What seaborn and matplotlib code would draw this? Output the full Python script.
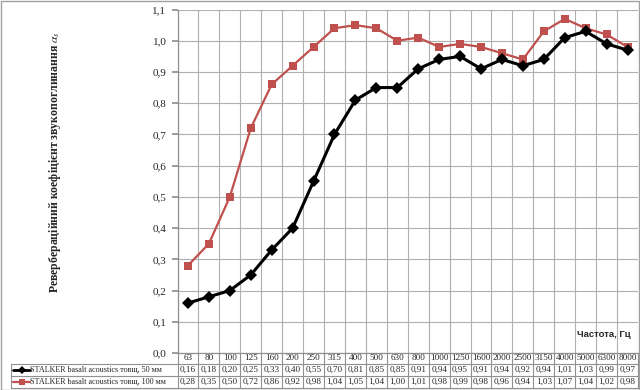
import numpy as np
import pandas as pd
import matplotlib
matplotlib.use("Agg")
import matplotlib.pyplot as plt
import seaborn as sns
from matplotlib.lines import Line2D
from matplotlib.transforms import blended_transform_factory

freqs = ["63", "80", "100", "125", "160", "200", "250", "315", "400", "500", "630",
         "800", "1000", "1250", "1600", "2000", "2500", "3150", "4000", "5000", "6300", "8000"]
s50 = [0.16, 0.18, 0.20, 0.25, 0.33, 0.40, 0.55, 0.70, 0.81, 0.85, 0.85,
       0.91, 0.94, 0.95, 0.91, 0.94, 0.92, 0.94, 1.01, 1.03, 0.99, 0.97]
s100 = [0.28, 0.35, 0.50, 0.72, 0.86, 0.92, 0.98, 1.04, 1.05, 1.04, 1.00,
        1.01, 0.98, 0.99, 0.98, 0.96, 0.94, 1.03, 1.07, 1.04, 1.02, 0.98]
name50 = "STALKER basalt acoustics товщ, 50 мм"
name100 = "STALKER basalt acoustics товщ, 100 мм"
yticks = [0.0, 0.1, 0.2, 0.3, 0.4, 0.5, 0.6, 0.7, 0.8, 0.9, 1.0, 1.1]
ylabel = "Реверберацiйний коефiцiєнт звукопоглинання "
xlabel = "Частота, Гц"

W, H = 640, 390
RED = "#C0504D"
GRID = "#B0B0B0"
TBL = "#909090"

sns.set_theme(style="white")
plt.rcParams['font.family'] = ['Liberation Serif', 'DejaVu Serif']
plt.rcParams['mathtext.fontset'] = 'stix'

fig = plt.figure(figsize=(W / 100, H / 100), dpi=100)
L, R, T, B = 177.5, 638, 9.5, 353
ax = fig.add_axes([L / W, 1 - B / H, (R - L) / W, (B - T) / H])

n = len(freqs)
df = pd.DataFrame({"pos": list(range(n)) * 2,
                   "val": s50 + s100,
                   "series": [name50] * n + [name100] * n})

sns.lineplot(data=df[df.series == name100], x="pos", y="val", color=RED, lw=1.6,
             marker="s", markersize=5.5, markeredgewidth=0, ax=ax, zorder=3)
sns.lineplot(data=df[df.series == name50], x="pos", y="val", color="black", lw=2.2,
             marker="D", markersize=6, markeredgewidth=0, ax=ax, zorder=4)

ax.set_xlim(-0.5, n - 0.5)
ax.set_ylim(0, 1.1)
ax.set_yticks(yticks)
ax.set_yticklabels([f"{v:.1f}".replace(".", ",") for v in yticks], fontsize=8)
ax.set_xticks([])
ax.set_xticks(np.arange(n + 1) - 0.5, minor=True)
ax.tick_params(axis="y", length=4, color=TBL, pad=4, left=True)
ax.tick_params(axis="x", which="minor", length=0)
ax.grid(axis="y", color=GRID, lw=0.8)
ax.grid(axis="x", which="minor", color=GRID, lw=0.8)
ax.set_xlabel("")
ax.set_ylabel("")
for s in ["top", "right"]:
    ax.spines[s].set_visible(False)
ax.spines["left"].set_color(TBL)
ax.spines["bottom"].set_color(TBL)
ax.spines["left"].set_linewidth(0.9)
ax.spines["bottom"].set_linewidth(0.9)
if ax.get_legend():
    ax.get_legend().remove()

# y label
fig.text(55 / W, 1 - 162 / H, ylabel + r"$\alpha_s$", rotation=90, ha="center", va="center",
         fontsize=8.5, fontweight="bold")
# x label
ax.text(0.985, 0.055, xlabel, transform=ax.transAxes, ha="right", va="center",
        fontsize=6.8, fontweight="bold", family=["Liberation Sans", "DejaVu Sans"])

# data table
def fy(p):
    return 1 - p / H

def fx(p):
    return p / W

rows_y = [353, 364, 376, 388]
tl = fig.transFigure
for yy in rows_y[1:]:
    fig.add_artist(Line2D([fx(11), fx(R)], [fy(yy), fy(yy)], color=TBL, lw=0.8, transform=tl))
fig.add_artist(Line2D([fx(11), fx(11)], [fy(rows_y[1]), fy(rows_y[3])], color=TBL, lw=0.8, transform=tl))
bt = blended_transform_factory(ax.transData, tl)
for i in range(n + 1):
    fig.add_artist(Line2D([i - 0.5, i - 0.5], [fy(rows_y[0]), fy(rows_y[3])],
                          color=TBL, lw=0.8, transform=bt))

def fmt(v):
    return f"{v:.2f}".replace(".", ",")

FS = 6.6
for i in range(n):
    ax.text(i, fy((rows_y[0] + rows_y[1]) / 2), freqs[i], transform=bt, ha="center", va="center", fontsize=FS, clip_on=False)
    ax.text(i, fy((rows_y[1] + rows_y[2]) / 2), fmt(s50[i]), transform=bt, ha="center", va="center", fontsize=FS, clip_on=False)
    ax.text(i, fy((rows_y[2] + rows_y[3]) / 2), fmt(s100[i]), transform=bt, ha="center", va="center", fontsize=FS, clip_on=False)

# legend keys in table
for yy, col, mk, lw in [((rows_y[1] + rows_y[2]) / 2, "black", "D", 2.0),
                        ((rows_y[2] + rows_y[3]) / 2, RED, "s", 1.6)]:
    fig.add_artist(Line2D([fx(13), fx(30)], [fy(yy), fy(yy)], color=col, lw=lw, transform=tl))
    fig.add_artist(Line2D([fx(21.5)], [fy(yy)], color=col, marker=mk, markersize=4.5,
                          markeredgewidth=0, transform=tl))
fig.text(fx(30), fy((rows_y[1] + rows_y[2]) / 2), name50, ha="left", va="center", fontsize=5.9)
fig.text(fx(30), fy((rows_y[2] + rows_y[3]) / 2), name100, ha="left", va="center", fontsize=5.9)

# chart border
fig.add_artist(plt.Rectangle((0.001, 0.001), 0.997, 0.997, fill=False, ec="#A0A0A0", lw=1, transform=tl))

fig.savefig("out.png", dpi=100)
